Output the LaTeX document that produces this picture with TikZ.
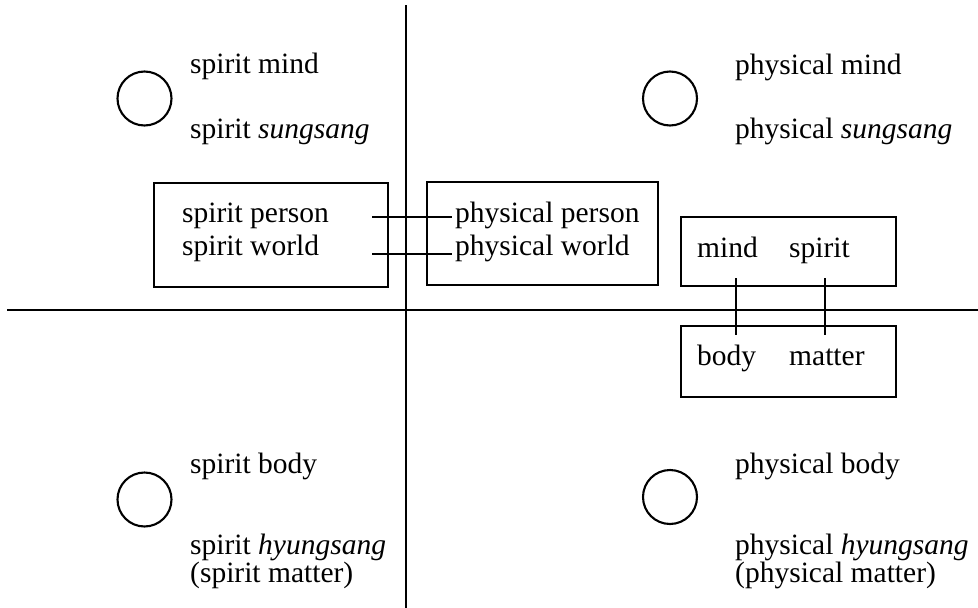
\documentclass[tikz,border=0pt]{standalone}
\usepackage{fontspec}
\setmainfont{Liberation Serif}
\begin{document}
\begin{tikzpicture}[x=1pt,y=-1pt,
  lbl/.style={anchor=base west,inner sep=0pt,font=\fontsize{29.5}{33}\selectfont},
  box/.style={draw,line width=2.1pt,inner sep=0pt},
  ring/.style={draw,line width=2.1pt,circle,minimum size=54pt,inner sep=0pt},
  axis/.style={line width=2.5pt},
  link/.style={line width=2.1pt}]
\useasboundingbox (0,0) rectangle (978,608);
% axes
\coordinate (vt) at (406,5);
\coordinate (vb) at (406,608);
\coordinate (hl) at (7,310);
\coordinate (hr) at (978,310);
\draw[axis] (vt) -- (vb);
\draw[axis] (hl) -- (hr);
% boxes
\node[box,minimum width=234pt,minimum height=104pt] (b1) at (271,235) {};
\node[box,minimum width=231pt,minimum height=103pt] (b2) at (542.5,233.5) {};
\node[box,minimum width=215pt,minimum height=69pt] (b3) at (788.5,251.5) {};
\node[box,minimum width=215pt,minimum height=71pt] (b4) at (788.5,361.5) {};
% circles
\node[ring] (r1) at (144.5,98.5) {};
\node[ring] (r2) at (670,98.5) {};
\node[ring] (r3) at (144.5,499.5) {};
\node[ring] (r4) at (670,497) {};
% texts
\node[lbl] (t1) at (190,73) {spirit mind};
\node[lbl] (t2) at (190,138) {spirit \textit{sungsang}};
\node[lbl] (t3) at (735,74) {physical mind};
\node[lbl] (t4) at (735,138) {physical \textit{sungsang}};
\node[lbl] (t5) at (182,222) {spirit person};
\node[lbl] (t6) at (182,255) {spirit world};
\node[lbl] (t7) at (455,222) {physical person};
\node[lbl] (t8) at (455,255) {physical world};
\node[lbl] (t9) at (697,257) {mind};
\node[lbl] (t10) at (789,257) {spirit};
\node[lbl] (t11) at (697,365) {body};
\node[lbl] (t12) at (789,365) {matter};
\node[lbl] (t13) at (190,473) {spirit body};
\node[lbl] (t14) at (190,554) {spirit \textit{hyungsang}};
\node[lbl] (t15) at (190,582) {(spirit matter)};
\node[lbl] (t16) at (735,473) {physical body};
\node[lbl] (t17) at (735,554) {physical \textit{hyungsang}};
\node[lbl] (t18) at (735,582) {(physical matter)};
% connectors
\coordinate (c1a) at (372,217);
\coordinate (c1b) at (452,217);
\coordinate (c2a) at (372,254);
\coordinate (c2b) at (452,254);
\coordinate (v1a) at (736,278);
\coordinate (v1b) at (736,335);
\coordinate (v2a) at (825,278);
\coordinate (v2b) at (825,335);
\draw[link] (c1a) -- (c1b);
\draw[link] (c2a) -- (c2b);
\draw[link] (v1a) -- (v1b);
\draw[link] (v2a) -- (v2b);
\end{tikzpicture}
\end{document}
